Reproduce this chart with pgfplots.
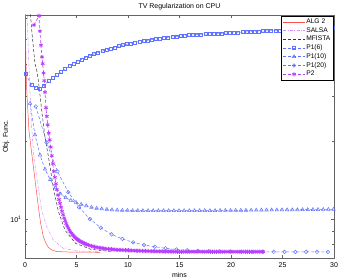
\documentclass[border=0pt]{standalone}
\usepackage{fontspec}
\setmainfont{Liberation Sans}
\usepackage{pgfplots}
\pgfplotsset{compat=1.18}
\definecolor{algred}{RGB}{255,80,80}
\definecolor{salsa}{RGB}{215,140,255}
\definecolor{pblue}{RGB}{95,115,255}
\definecolor{ppurple}{RGB}{185,60,255}
\definecolor{axgray}{RGB}{100,100,100}
\begin{document}
\begin{tikzpicture}
\useasboundingbox (-25bp,-22bp) rectangle (317bp,258bp);
\begin{axis}[
  scale only axis, width=309bp, height=243bp,
  xmin=0, xmax=30, ymode=log, ymin=7.06, ymax=61.8,
  xtick={0,5,...,30}, ytick={10}, yticklabels={10\textsuperscript{1}},
  minor ytick={7,8,9,20,30,40,50,60},
  tick align=inside, major tick length=3bp, minor tick length=2bp,
  axis line style={axgray}, every tick/.style={axgray},
  /pgf/number format/assume math mode=true,
  tick label style={font=\fontsize{7}{8}\selectfont},
  xticklabel style={yshift=-1.5bp},
  title={TV Regularization on CPU},
  every axis title/.style={at={(axis description cs:0.5,1)}, anchor=base, yshift=6.5bp, font=\fontsize{7}{8}\selectfont},
  xlabel={mins},
  every axis x label/.style={at={(axis description cs:0.5,0)}, anchor=base, yshift=-20bp, font=\fontsize{7}{8}\selectfont},
  ylabel={Obj. Func.},
  every axis y label/.style={at={(axis description cs:0,0.5)}, xshift=-19bp, rotate=90, anchor=center, font=\fontsize{7}{8}\selectfont},
  legend style={at={(1,1)}, anchor=north east, xshift=-1bp, yshift=-1bp, draw=black, fill=white,
    font=\fontsize{6.7}{7}\selectfont, row sep=0.5bp, inner sep=1.5bp, nodes={inner sep=1bp, anchor=west}},
  legend cell align=left,
  legend image code/.code={\draw[mark repeat=2,mark phase=2,#1] plot coordinates {(0bp,0bp) (11bp,0bp) (22bp,0bp)};},
]
% ALG 2
\addplot[algred, line width=0.5pt] coordinates {
(0.02,70) (0.08,42) (0.17,31.6) (0.38,22.1) (0.65,18.0) (0.97,14.2) (1.29,11.2) (1.52,9.62) (1.78,8.54) (2.0,8.1) (2.26,7.77) (2.6,7.58) (3.07,7.48) (4.5,7.44) (7.3,7.43)};
\addlegendentry{ALG 2}
% SALSA
\addplot[salsa, line width=0.5pt, dash pattern=on 3bp off 1.5bp on 0.8bp off 1.5bp] coordinates {
(0.2,65) (0.35,42) (0.5,30) (0.65,22.5) (0.85,17.5) (1.17,14.2) (1.4,12.3) (1.62,10.8) (2.1,9.34) (2.75,8.29) (3.72,7.70) (5,7.52) (7.3,7.46)};
\addlegendentry{SALSA}
% MFISTA
\addplot[black!80, line width=0.5pt, dash pattern=on 3bp off 2bp] coordinates {
(0.5,65) (0.65,54) (0.97,40) (1.13,38) (1.29,34.6) (1.62,26.4) (1.94,20.8) (2.3,17.2) (2.75,13.2) (3.24,10.7) (3.88,9.05) (4.9,8.05) (6.4,7.63) (8.3,7.48)};
\addlegendentry{MFISTA}
% P1(6)
\addplot[pblue, line width=0.5pt, dash pattern=on 3bp off 2bp, mark=square, mark size=1.5bp, mark options={solid, line width=0.5pt}] coordinates {
(0.05,36.6) (0.62,33.1) (1.0,32.4) (1.4,32.1) (1.85,33.0) (2.3,34.3) (2.7,35.3) (3.1,36.2) (3.5,37.2) (3.9,38.2) (4.3,39.2) (4.7,40.0) (5.1,40.8) (5.5,41.6) (5.9,42.3) (6.3,43.0) (6.7,43.6) (7.1,44.2) (7.5,44.8) (7.9,45.3) (8.3,45.8) (8.7,46.3) (9.1,46.8) (9.5,47.2) (9.9,47.6) (10.3,48.0) (10.7,48.4) (11.1,48.7) (11.5,49.0) (11.9,49.3) (12.3,49.6) (12.7,49.9) (13.1,50.2) (13.5,50.4) (13.9,50.6) (14.3,50.8) (14.7,51.0) (15.1,51.2) (15.5,51.4) (15.9,51.6) (16.3,51.7) (16.7,51.9) (17.1,52.0) (17.5,52.1) (17.9,52.2) (18.3,52.3) (18.7,52.4) (19.1,52.5) (19.5,52.6) (19.9,52.7) (20.3,52.8) (20.7,52.9) (21.1,53.0) (21.5,53.1) (21.9,53.2) (22.3,53.3) (22.7,53.4) (23.1,53.5) (23.5,53.6) (23.9,53.7) (24.3,53.8) (24.7,53.9) (25.1,54.0) (25.5,54.1) (25.9,54.2) (26.3,54.3) (26.7,54.4) (27.1,54.5) (27.5,54.6) (27.9,54.7) (28.3,54.8) (28.7,54.9) (29.1,55.0) (29.5,55.1) (29.9,55.2)};
\addlegendentry{P1(6)}
% P1(10)
\addplot[pblue, line width=0.5pt, dash pattern=on 3bp off 2bp, mark=triangle, mark size=2bp, mark options={solid, line width=0.5pt}] coordinates {
(0.49,28.1) (0.97,21.2) (1.46,17.7) (1.94,15.6) (2.45,14.2) (2.95,13.2) (3.45,12.5) (3.95,12.1) (4.45,11.8) (4.95,11.6) (5.45,11.4) (5.95,11.25) (6.45,11.1) (6.95,11.0) (7.45,10.95) (7.95,10.9) (8.45,10.85) (8.95,10.82) (9.45,10.8) (9.95,10.8) (10.45,10.78) (10.95,10.78) (11.45,10.77) (11.95,10.77) (12.45,10.77) (12.95,10.77) (13.45,10.77) (13.95,10.77) (14.45,10.77) (14.95,10.77) (15.45,10.77) (15.95,10.77) (16.45,10.77) (16.95,10.77) (17.45,10.78) (17.95,10.78) (18.45,10.78) (18.95,10.79) (19.45,10.79) (19.95,10.8) (20.45,10.8) (20.95,10.81) (21.45,10.81) (21.95,10.82) (22.45,10.82) (22.95,10.83) (23.45,10.83) (23.95,10.84) (24.45,10.84) (24.95,10.85) (25.45,10.85) (25.95,10.86) (26.45,10.86) (26.95,10.87) (27.45,10.87) (27.95,10.88) (28.45,10.88) (28.95,10.89) (29.45,10.89) (29.95,10.9)};
\addlegendentry{P1(10)}
% P1(20)
\addplot[pblue, line width=0.5pt, dash pattern=on 3bp off 2bp, mark=o, mark size=1.8bp, mark options={solid, line width=0.5pt}] coordinates {
(1.05,27.3) (2.1,19.8) (3.15,15.3) (4.2,12.7) (5.25,11.1) (6.3,10.0) (7.35,9.25) (8.4,8.72) (9.45,8.37) (10.5,8.12) (11.55,7.93) (12.6,7.81) (13.65,7.70) (14.7,7.62) (15.75,7.57) (16.8,7.53) (17.85,7.51) (18.9,7.49) (19.95,7.48) (21,7.47) (22.05,7.46) (23.1,7.46) (24.15,7.46) (25.2,7.46) (26.25,7.46) (27.3,7.46) (28.35,7.46) (29.4,7.46)};
\addlegendentry{P1(20)}
% P2
\addplot[ppurple, line width=0.6pt, dash pattern=on 3bp off 2bp, mark=asterisk, mark size=2.1bp, mark options={solid, line width=0.7pt}] coordinates {
(0.87,56.5) (1.36,61.4) (1.45,53.5) (1.55,47.2) (1.65,42.5) (1.72,40.0) (1.8,36.8) (1.87,34.4) (1.94,31.0) (2.04,27.0) (2.12,25.0) (2.2,23.2) (2.3,21.5) (2.4,20.3) (2.5,19.0) (2.6,17.6) (2.7,16.4) (2.8,15.3) (2.9,14.5) (3.0,13.7) (3.1,13.0) (3.2,12.4) (3.3,11.9) (3.4,11.5) (3.5,11.1) (3.6,10.7) (3.7,10.4) (3.8,10.1) (3.9,9.85) (4.0,9.6) (4.1,9.4) (4.2,9.22) (4.3,9.06) (4.4,8.92) (4.5,8.8) (4.6,8.7) (4.7,8.62) (4.8,8.53) (4.9,8.46) (5.0,8.39) (5.1,8.33) (5.2,8.27) (5.3,8.22) (5.4,8.18) (5.5,8.14) (5.6,8.1) (5.7,8.06) (5.8,8.03) (5.9,8.0) (6.0,7.97) (6.15,7.93) (6.3,7.9) (6.45,7.86) (6.6,7.83) (6.75,7.8) (6.9,7.78) (7.05,7.76) (7.2,7.74) (7.35,7.72) (7.5,7.70) (7.65,7.69) (7.8,7.67) (7.95,7.66) (8.1,7.65) (8.25,7.64) (8.4,7.63) (8.55,7.62) (8.7,7.61) (8.85,7.60) (9.0,7.59) (9.15,7.59) (9.3,7.58) (9.45,7.58) (9.6,7.57) (9.75,7.57) (9.9,7.56) (10.05,7.56) (10.2,7.55) (10.35,7.55) (10.5,7.54) (10.65,7.54) (10.8,7.53) (10.95,7.53) (11.1,7.53) (11.25,7.52) (11.4,7.52) (11.55,7.52) (11.7,7.51) (11.85,7.51) (12.0,7.51) (12.15,7.50) (12.3,7.50) (12.45,7.50) (12.6,7.50) (12.75,7.49) (12.9,7.49) (13.05,7.49) (13.2,7.49) (13.35,7.49) (13.5,7.48) (13.65,7.48) (13.8,7.48) (13.95,7.48) (14.1,7.48) (14.25,7.48) (14.4,7.47) (14.6,7.47) (14.8,7.47) (15.0,7.47) (15.2,7.47) (15.4,7.47) (15.6,7.47) (15.8,7.47) (16.0,7.47) (16.2,7.47) (16.4,7.47) (16.6,7.47) (16.8,7.47) (17.0,7.47) (17.2,7.47) (17.4,7.47) (17.6,7.47) (17.8,7.47) (18.0,7.47) (18.2,7.47) (18.4,7.47) (18.6,7.47) (18.8,7.47) (19.0,7.47) (19.2,7.47) (19.4,7.47) (19.6,7.47) (19.8,7.47) (20.0,7.47) (20.2,7.47) (20.4,7.47) (20.6,7.47) (20.8,7.47) (21.0,7.47) (21.2,7.47) (21.4,7.47) (21.6,7.47) (21.8,7.47) (22.0,7.47) (22.2,7.47) (22.4,7.47) (22.6,7.47) (22.8,7.47) (23.0,7.47) (23.1,7.47)};
\addlegendentry{P2}
\end{axis}
\end{tikzpicture}
\end{document}
